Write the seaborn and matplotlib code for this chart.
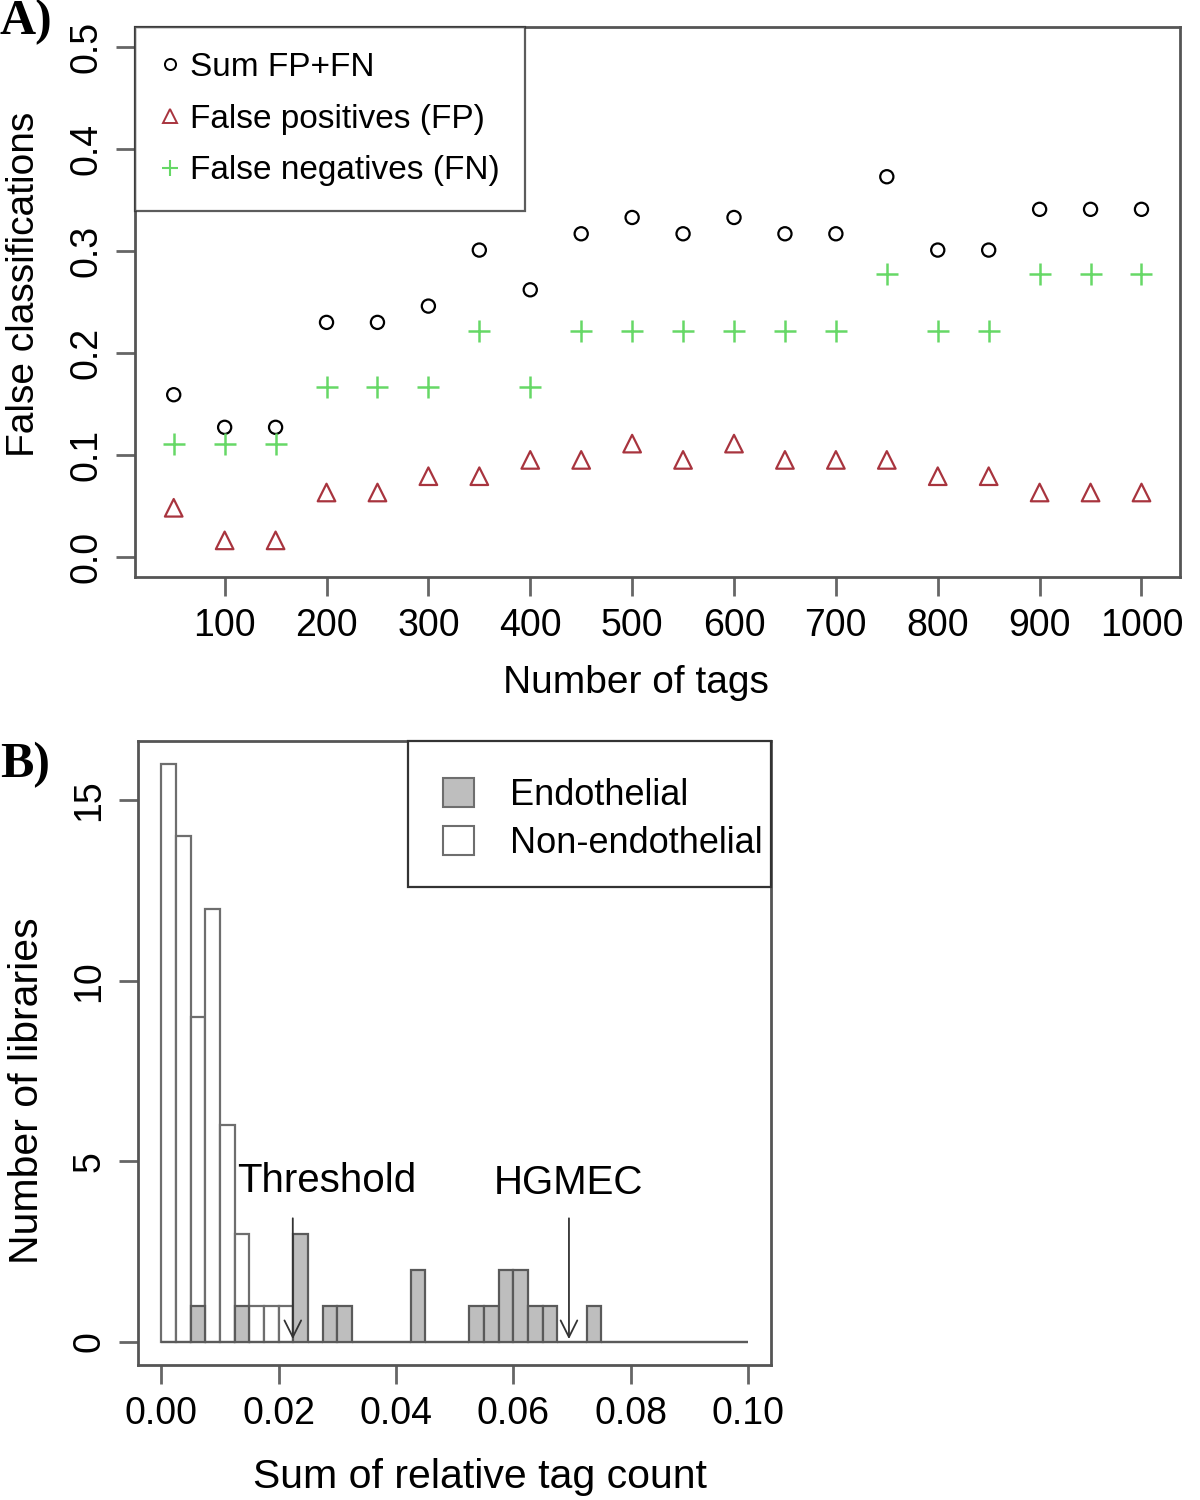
import numpy as np
import pandas as pd
import seaborn as sns
import matplotlib.pyplot as plt
from matplotlib.patches import Patch, Rectangle
from matplotlib.lines import Line2D

# Painel A: classificações falsas por número de tags
n_tags = [50, 100, 150, 200, 250, 300, 350, 400, 450, 500,
          550, 600, 650, 700, 750, 800, 850, 900, 950, 1000]
false_pos = [0.048, 0.016, 0.016, 0.063, 0.063, 0.079, 0.079, 0.095, 0.095, 0.111,
             0.095, 0.111, 0.095, 0.095, 0.095, 0.079, 0.079, 0.063, 0.063, 0.063]
false_neg = [0.111, 0.111, 0.111, 0.167, 0.167, 0.167, 0.222, 0.167, 0.222, 0.222,
             0.222, 0.222, 0.222, 0.222, 0.278, 0.222, 0.222, 0.278, 0.278, 0.278]
sum_fp_fn = [0.159, 0.127, 0.127, 0.230, 0.230, 0.246, 0.301, 0.262, 0.317, 0.333,
             0.317, 0.333, 0.317, 0.317, 0.373, 0.301, 0.301, 0.341, 0.341, 0.341]

# Painel B: histogramas (bins de 0.0025 entre 0 e 0.10)
bin_width = 0.0025
nonendo_counts = [16, 14, 9, 12, 6, 3, 1, 1, 1, 0,
                  0, 0, 0, 0, 0, 0, 0, 0, 0, 0,
                  0, 0, 0, 0, 0, 0, 0, 0, 0, 0,
                  0, 0, 0, 0, 0, 0, 0, 0, 0, 0]
endo_counts = [0, 0, 1, 0, 0, 1, 0, 0, 0, 3,
               0, 1, 1, 0, 0, 0, 0, 2, 0, 0,
               0, 1, 1, 2, 2, 1, 1, 0, 0, 1,
               0, 0, 0, 0, 0, 0, 0, 0, 0, 0]
threshold_x = 0.0224
hgmec_x = 0.0695

sns.set_theme(style="white")
plt.rcParams['font.family'] = ['Liberation Sans', 'DejaVu Sans']
plt.rcParams['text.color'] = 'black'
plt.rcParams['axes.labelcolor'] = 'black'

FRAME = '#555555'
fig = plt.figure(figsize=(12, 15), dpi=100)

# ==========================================
# Painel A
# ==========================================
ax1 = fig.add_axes([0.1125, 0.6153, 0.871, 0.3667])
sns.scatterplot(x=n_tags, y=sum_fp_fn, ax=ax1, marker='o', s=90,
                facecolor='none', edgecolor='black', linewidth=1.6)
sns.scatterplot(x=n_tags, y=false_pos, ax=ax1, marker='^', s=160,
                facecolor='none', edgecolor='#A8343E', linewidth=1.6)
sns.scatterplot(x=n_tags, y=false_neg, ax=ax1, marker='+', s=230,
                color='#66D866', linewidth=1.8)
ax1.set_xlim(12, 1038)
ax1.set_ylim(-0.02, 0.52)
ax1.set_xticks(range(100, 1001, 100))
ax1.set_yticks([0.0, 0.1, 0.2, 0.3, 0.4, 0.5])
ax1.set_yticklabels(['0.0', '0.1', '0.2', '0.3', '0.4', '0.5'],
                    rotation=90, va='center')
ax1.set_xlabel('Number of tags', fontsize=28)
ax1.set_ylabel('False classifications', fontsize=28,
               rotation_mode='default', ha='left', va='center')
ax1.xaxis.set_label_coords(0.479, -0.160)
ax1.yaxis.set_label_coords(-0.1235, 0.532)

handles_a = [
    Line2D([], [], marker='o', ls='none', mfc='none', mec='black', ms=8, mew=1.4),
    Line2D([], [], marker='^', ls='none', mfc='none', mec='#A8343E', ms=10, mew=1.4),
    Line2D([], [], marker='+', ls='none', color='#66D866', ms=12, mew=1.5),
]
leg1 = ax1.legend(handles_a, ['Sum FP+FN', 'False positives (FP)', 'False negatives (FN)'],
                  loc='upper left', borderaxespad=0, fontsize=24, frameon=True,
                  fancybox=False, handlelength=0.6, handletextpad=0.3,
                  borderpad=0.75, labelspacing=0.62)
leg1.get_frame().set_edgecolor('#333333')
leg1.get_frame().set_linewidth(1.6)

# ==========================================
# Painel B
# ==========================================
ax2 = fig.add_axes([0.115, 0.09, 0.5277, 0.416])
centers = np.arange(len(nonendo_counts)) * bin_width + bin_width / 2
df_non = pd.DataFrame({'x': centers, 'n': nonendo_counts})
df_endo = pd.DataFrame({'x': centers, 'n': endo_counts})
sns.histplot(data=df_non, x='x', weights='n', binwidth=bin_width, binrange=(0, 0.1),
             ax=ax2, color='white', edgecolor='#6E6E6E', linewidth=1.6, alpha=1)
sns.histplot(data=df_endo, x='x', weights='n', binwidth=bin_width, binrange=(0, 0.1),
             ax=ax2, color='#BEBEBE', edgecolor='#5A5A5A', linewidth=1.6, alpha=1)
ax2.set_xlim(-0.004, 0.104)
ax2.set_ylim(-0.64, 16.64)
ax2.set_xticks([0.00, 0.02, 0.04, 0.06, 0.08, 0.10])
ax2.set_xticklabels(['0.00', '0.02', '0.04', '0.06', '0.08', '0.10'])
ax2.set_yticks([0, 5, 10, 15])
ax2.set_yticklabels(['0', '5', '10', '15'], rotation=90, va='center')
ax2.set_xlabel('Sum of relative tag count', fontsize=29.5)
ax2.set_ylabel('Number of libraries', fontsize=29.5,
               rotation_mode='default', ha='left', va='center')
ax2.xaxis.set_label_coords(0.540, -0.149)
ax2.yaxis.set_label_coords(-0.206, 0.439)

for xv in (threshold_x, hgmec_x):
    ax2.annotate('', xy=(xv, 0), xytext=(xv, 3.5),
                 arrowprops=dict(arrowstyle='->', color='#333333', lw=1.3,
                                 mutation_scale=30))
ax2.text(0.0282, 4.45, 'Threshold', fontsize=29, ha='center', va='center')
ax2.text(0.0695, 4.4, 'HGMEC', fontsize=29, ha='center', va='center')

# moldura da legenda desenhada à parte (texto quase encostando na borda direita)
ax2.add_patch(Rectangle((0.4265, 0.766), 0.5735, 0.234, transform=ax2.transAxes,
                        facecolor='white', edgecolor='#333333', linewidth=1.6,
                        zorder=4, clip_on=False))
handles_b = [Patch(facecolor='#BEBEBE', edgecolor='#6E6E6E', linewidth=1.5),
             Patch(facecolor='white', edgecolor='#6E6E6E', linewidth=1.5)]
leg2 = ax2.legend(handles_b, ['Endothelial', 'Non-endothelial'], loc='upper left',
                  bbox_to_anchor=(0.482, 0.941), borderaxespad=0, borderpad=0,
                  fontsize=26, frameon=False, handlelength=0.85, handleheight=0.85,
                  handletextpad=1.0, labelspacing=0.36)
leg2.set_zorder(5)

for ax in (ax1, ax2):
    for sp in ax.spines.values():
        sp.set_visible(True)
        sp.set_color(FRAME)
        sp.set_linewidth(2)
    ax.tick_params(axis='both', which='both', direction='out', length=14,
                   width=2, color='#666666', labelcolor='black', labelsize=27,
                   pad=8, bottom=True, left=True, top=False, right=False)
    ax.grid(False)

fig.text(0.0, 1 - 22 / 1500, 'A)', family=['Liberation Serif'], weight='bold',
         fontsize=36, va='center', ha='left')
fig.text(0.0, 1 - 765 / 1500, 'B)', family=['Liberation Serif'], weight='bold',
         fontsize=36, va='center', ha='left')

fig.savefig('out.png', dpi=100)
